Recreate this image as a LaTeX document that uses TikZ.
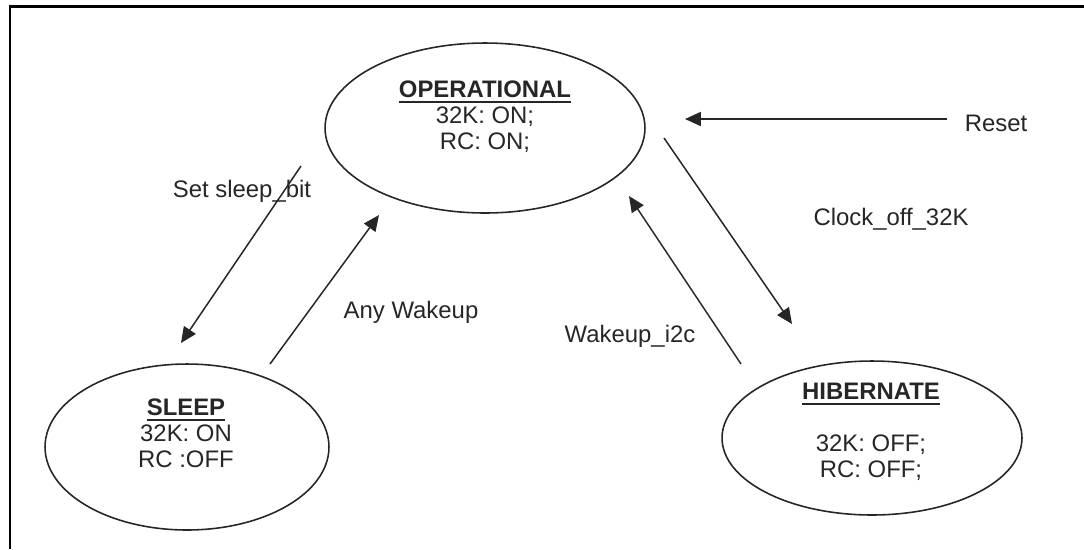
\documentclass[tikz,border=0pt]{standalone}
\usepackage{fontspec}
\setmainfont{Liberation Sans}
\usetikzlibrary{arrows.meta,shapes.geometric}
\newcommand{\stitle}[1]{\setbox0\hbox{\textbf{#1}}\rlap{\rule[-3pt]{\wd0}{1.1pt}}\box0}
\begin{document}
\begin{tikzpicture}[x=0.02cm,y=-0.02cm,
		state/.style={draw=black!85,line width=0.9pt,ellipse,minimum width=#1},
		txt/.style={text=black!85,font=\fontsize{13.6}{14.8}\selectfont,align=center,inner sep=0pt},
		trans/.style={line width=0.85pt,draw=black!85,-{Triangle[length=9pt,width=8pt]}}]
	\useasboundingbox (0,0) rectangle (1084,549);
	\draw[line width=1.7pt] (10,549) -- (10,6) -- (1084,6);
	% states
	\node[state=6.4cm,minimum height=3.4cm] (op) at (485,128) {};
	\node[state=5.68cm,minimum height=3.32cm] (sl) at (187,447) {};
	\node[state=6.0cm,minimum height=3.08cm] (hb) at (872,438) {};
	\node[txt] (optxt) at (485,117) {\stitle{OPERATIONAL}\\32K: ON;\\RC: ON;};
	\node[txt] (sltxt) at (186,433) {\stitle{SLEEP}\\32K: ON\\RC :OFF};
	\node[txt] (hbtxt) at (871,432) {\stitle{HIBERNATE}\\[14.8pt]32K: OFF;\\RC: OFF;};
	% arrow ends
	\coordinate (rs) at (947,119);
	\coordinate (rt) at (685,119);
	\coordinate (c1) at (664,138);
	\coordinate (c2) at (792,324);
	\coordinate (w1) at (741,364);
	\coordinate (w2) at (629,196);
	\coordinate (s1) at (301,166);
	\coordinate (s2) at (181,343);
	\coordinate (a1) at (270,364);
	\coordinate (a2) at (379,215);
	\draw[trans] (rs) -- (rt);
	\draw[trans] (c1) -- (c2);
	\draw[trans] (w1) -- (w2);
	\draw[trans] (s1) -- (s2);
	\draw[trans] (a1) -- (a2);
	% labels
	\node[txt] (lreset) at (996,123) {Reset};
	\node[txt] (lclock) at (891,219) {Clock\_off\_32K};
	\node[txt] (li2c) at (630,336) {Wakeup\_i2c};
	\node[txt] (lsleep) at (242,191) {Set sleep\_bit};
	\node[txt] (lany) at (411,312) {Any Wakeup};
\end{tikzpicture}
\end{document}
